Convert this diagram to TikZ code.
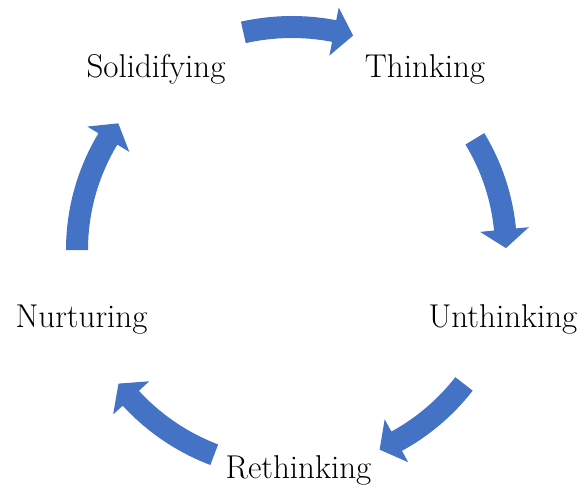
\documentclass[tikz,border=0pt]{standalone}
\usepackage{tikz}
\usetikzlibrary{positioning}

\definecolor{cycleblue}{HTML}{4472C4}

\begin{document}
\begin{tikzpicture}[
        x=0.5pt, y=0.5pt,
        font=\fontsize{16.5}{19}\selectfont,
        stage/.style={
            anchor=base,
            inner sep=0pt
        },
        cyclearrow/.style={
            fill=cycleblue,
            draw=none
        }
    ]
    \useasboundingbox (-292,250) rectangle (288,-238);
    % Curved arrows of the cycle: start angle / tip angle / radius
    \foreach \sa/\ta/\r in {102.6/74.1/223, 31.3/0.5/214, -37.9/-66.3/218,
                           -110.8/-142.4/219, 180/143.9/215} {
        \pgfmathsetmacro{\hb}{\ta+5}
        \fill[cyclearrow] (\sa:\r+11) arc[start angle=\sa, end angle=\hb, radius=\r+11]
            -- (\hb:\r+24) -- (\ta:\r) -- (\hb:\r-25) -- (\hb:\r-11)
            arc[start angle=\hb, end angle=\sa, radius=\r-11] -- cycle;
    }
    % Stage labels
    \node[stage] (thinking) at (133,173) {Thinking};
    \node[stage] (unthinking) at (211,-77) {Unthinking};
    \node[stage] (rethinking) at (6.5,-228) {Rethinking};
    \node[stage] (nurturing) at (-210.5,-77) {Nurturing};
    \node[stage] (solidifying) at (-136,173) {Solidifying};
\end{tikzpicture}
\end{document}
